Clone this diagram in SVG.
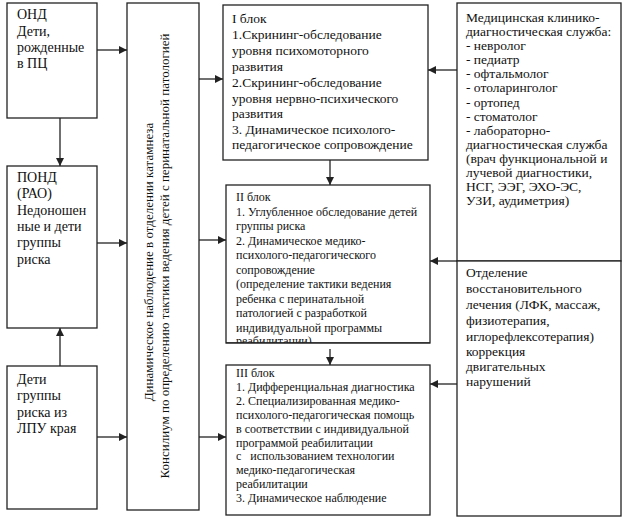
<svg xmlns="http://www.w3.org/2000/svg" width="623" height="522" viewBox="0 0 623 522">
<style>
.box{fill:#fff;stroke:#222;stroke-width:1.3}
text{font-family:'Liberation Serif','DejaVu Serif',serif;fill:#111}
.l{font-size:14px}
.m{font-size:13px}
.mm{font-size:13.5px}
.s{font-size:12px}
.c{stroke:#222;stroke-width:1.3;fill:none;marker-end:url(#ah)}
</style>
<defs>
<marker id="ah" markerUnits="userSpaceOnUse" markerWidth="9" markerHeight="8" refX="8" refY="4" orient="auto">
<path d="M0,0 L8,4 L0,8 Z" fill="#222"/>
</marker>
</defs>
<rect width="623" height="522" fill="#fff"/>
<g id="connectors">
<line class="c" x1="60" y1="118" x2="60" y2="166"/>
<line class="c" x1="60" y1="366" x2="60" y2="328"/>
<line class="c" x1="97" y1="50" x2="127" y2="50"/>
<line class="c" x1="97" y1="243" x2="127" y2="243"/>
<line class="c" x1="97" y1="437" x2="127" y2="437"/>
<line class="c" x1="199" y1="79" x2="223" y2="79"/>
<line class="c" x1="199" y1="240" x2="226" y2="240"/>
<line class="c" x1="199" y1="437" x2="226" y2="437"/>
<line class="c" x1="330" y1="160" x2="330" y2="185"/>
<line class="c" x1="330" y1="343" x2="330" y2="365"/>
<line class="c" x1="457" y1="70" x2="428" y2="70"/>
<line class="c" x1="457" y1="261" x2="430" y2="261"/>
<line class="c" x1="457" y1="384" x2="430" y2="384"/>
</g>
<g id="ond">
<rect class="box" x="7" y="3" width="90" height="115"/>
<text class="l"><tspan x="17" y="19">ОНД</tspan><tspan x="17" y="36">Дети,</tspan><tspan x="17" y="52">рожденные</tspan><tspan x="17" y="68">в ПЦ</tspan></text>
</g>
<g id="pond">
<rect class="box" x="7" y="166" width="90" height="162"/>
<text class="l"><tspan x="17" y="182">ПОНД</tspan><tspan x="17" y="198">(РАО)</tspan><tspan x="17" y="215">Недоношен</tspan><tspan x="17" y="231">ные и дети</tspan><tspan x="17" y="247">группы</tspan><tspan x="17" y="264">риска</tspan></text>
</g>
<g id="deti">
<rect class="box" x="7" y="366" width="90" height="143"/>
<text class="l"><tspan x="17" y="384">Дети</tspan><tspan x="17" y="400">группы</tspan><tspan x="17" y="417">риска из</tspan><tspan x="17" y="433">ЛПУ края</tspan></text>
</g>
<g id="center">
<rect class="box" x="127" y="3" width="72" height="507"/>
<text class="m" text-anchor="middle" transform="translate(153,262) rotate(-90)">Динамическое наблюдение в отделении катамнеза</text>
<text class="m" text-anchor="middle" transform="translate(169,256) rotate(-90)">Консилиум по определению тактики ведения детей с перинатальной патологией</text>
</g>
<g id="block1">
<rect class="box" x="223" y="5" width="205" height="155"/>
<text class="mm"><tspan x="232" y="23">I блок</tspan><tspan x="232" y="39">1.Скрининг-обследование</tspan><tspan x="232" y="55">уровня психомоторного</tspan><tspan x="232" y="71">развития</tspan><tspan x="232" y="87">2.Скрининг-обследование</tspan><tspan x="232" y="103">уровня нервно-психического</tspan><tspan x="232" y="118">развития</tspan><tspan x="232" y="134">3. Динамическое психолого-</tspan><tspan x="232" y="149">педагогическое сопровождение</tspan></text>
</g>
<g id="block2">
<rect class="box" x="226" y="185" width="204" height="158"/>
<text class="s"><tspan x="236" y="201">II блок</tspan><tspan x="236" y="216">1. Углубленное обследование детей</tspan><tspan x="236" y="230">группы риска</tspan><tspan x="236" y="245">2. Динамическое медико-</tspan><tspan x="236" y="259">психолого-педагогического</tspan><tspan x="236" y="274">сопровождение</tspan><tspan x="236" y="288">(определение тактики ведения</tspan><tspan x="236" y="303">ребенка с перинатальной</tspan><tspan x="236" y="317">патологией с разработкой</tspan><tspan x="236" y="332">индивидуальной программы</tspan><tspan x="236" y="345">реабилитации)</tspan></text>
<rect x="226" y="343" width="204" height="6" fill="#fff"/>
<line x1="226" y1="343" x2="430" y2="343" stroke="#222" stroke-width="1.3"/>
</g>
<g id="block3">
<rect class="box" x="226" y="365" width="204" height="150"/>
<text class="s"><tspan x="236" y="377">III блок</tspan><tspan x="236" y="391">1. Дифференциальная диагностика</tspan><tspan x="236" y="405">2. Специализированная медико-</tspan><tspan x="236" y="419">психолого-педагогическая помощь</tspan><tspan x="236" y="433">в соответствии с индивидуальной</tspan><tspan x="236" y="447">программой реабилитации</tspan><tspan x="236" y="460">с &#160; использованием технологии</tspan><tspan x="236" y="474">медико-педагогическая</tspan><tspan x="236" y="488">реабилитации</tspan><tspan x="236" y="502">3. Динамическое наблюдение</tspan></text>
</g>
<g id="med">
<rect class="box" x="457" y="3" width="164" height="258"/>
<text class="mm"><tspan x="466" y="22">Медицинская клинико-</tspan><tspan x="466" y="36">диагностическая служба:</tspan><tspan x="466" y="50">- невролог</tspan><tspan x="466" y="64">- педиатр</tspan><tspan x="466" y="78">- офтальмолог</tspan><tspan x="466" y="92">- отоларинголог</tspan><tspan x="466" y="107">- ортопед</tspan><tspan x="466" y="121">- стоматолог</tspan><tspan x="466" y="135">- лабораторно-</tspan><tspan x="466" y="149">диагностическая служба</tspan><tspan x="466" y="163">(врач функциональной и</tspan><tspan x="466" y="177">лучевой диагностики,</tspan><tspan x="466" y="191">НСГ, ЭЭГ, ЭХО-ЭС,</tspan><tspan x="466" y="205">УЗИ, аудиметрия)</tspan></text>
</g>
<g id="rehab">
<rect class="box" x="457" y="261" width="164" height="255"/>
<text class="mm"><tspan x="466" y="277">Отделение</tspan><tspan x="466" y="293">восстановительного</tspan><tspan x="466" y="309">лечения (ЛФК, массаж,</tspan><tspan x="466" y="325">физиотерапия,</tspan><tspan x="466" y="341">иглорефлексотерапия)</tspan><tspan x="466" y="356">коррекция</tspan><tspan x="466" y="371">двигательных</tspan><tspan x="466" y="386">нарушений</tspan></text>
</g>
</svg>
